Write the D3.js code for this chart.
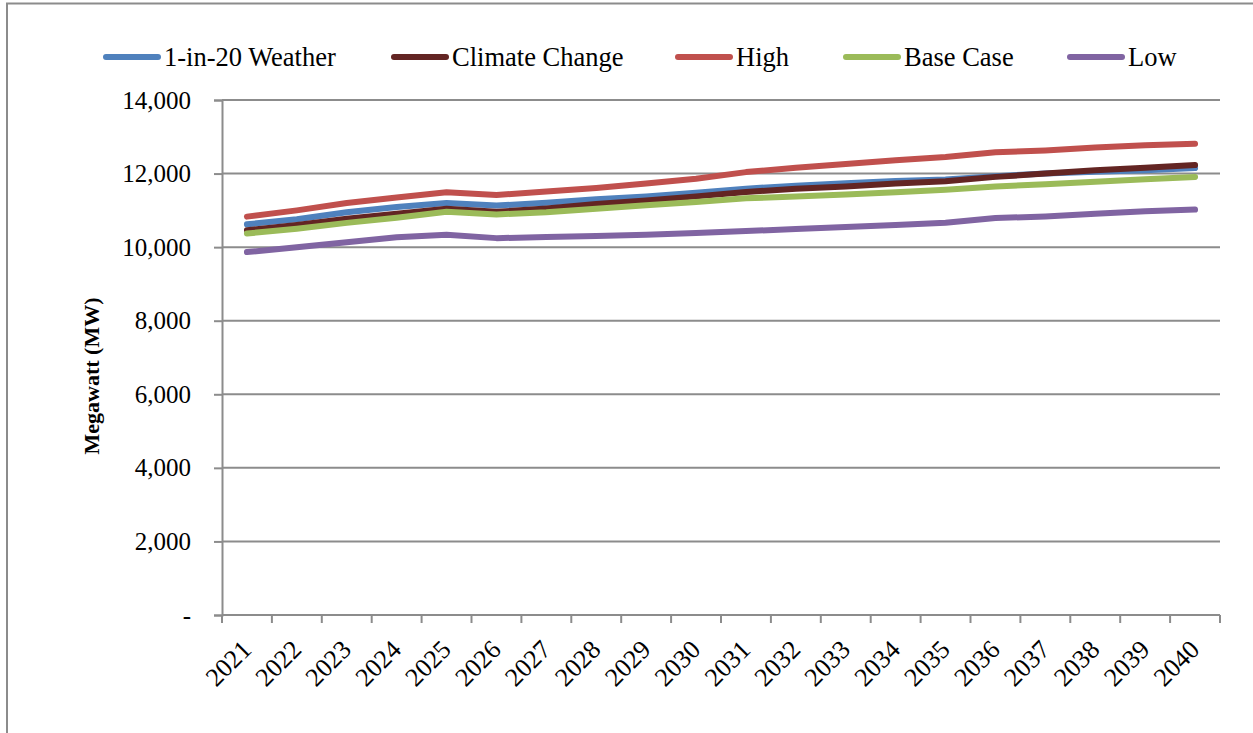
<!DOCTYPE html>
<html>
<head>
<meta charset="utf-8">
<script src="https://cdn.jsdelivr.net/npm/d3@7"></script>
<style>
  html, body { margin: 0; padding: 0; background: #fff; }
  svg { display: block; }
</style>
</head>
<body>
<svg id="chart" width="1253" height="733"></svg>
<script>
// Peak demand forecast by scenario, 2021-2040 (MW)
const years = ["2021","2022","2023","2024","2025","2026","2027","2028","2029","2030",
               "2031","2032","2033","2034","2035","2036","2037","2038","2039","2040"];

const weather1in20 = [10620,10760,10950,11090,11200,11130,11210,11300,11380,11480,
                      11590,11670,11740,11800,11840,11930,12000,12050,12090,12150];
const climateChange = [10460,10600,10770,10910,11045,10960,11050,11170,11270,11380,
                       11500,11590,11650,11730,11790,11910,12000,12090,12160,12230];
const high = [10830,11000,11200,11350,11490,11420,11510,11610,11730,11860,
              12040,12160,12260,12360,12450,12580,12630,12710,12770,12810];
const baseCase = [10370,10500,10660,10800,10960,10890,10950,11045,11136,11227,
                  11327,11380,11430,11490,11560,11650,11710,11775,11845,11910];
const low = [9865,10000,10136,10270,10340,10245,10273,10300,10336,10382,
             10436,10491,10545,10600,10663,10790,10836,10909,10973,11020];

const yTicks = [0, 2000, 4000, 6000, 8000, 10000, 12000, 14000];

const seriesNames = ["1-in-20 Weather", "Climate Change", "High", "Base Case", "Low"];
const seriesValues = [weather1in20, climateChange, high, baseCase, low];
const seriesColors = ["#4F81BD", "#632523", "#C0504D", "#9BBB59", "#8064A2"];

const FONT = "'Liberation Serif', 'Times New Roman', serif";
const GRID = "#8c8c8c";

const svg = d3.select("#chart");
const plot = { left: 222, right: 1220, top: 100, bottom: 615 };

// outer frame of the chart area
svg.append("path")
  .attr("d", "M7,733 L7,3.5 L1253,3.5")
  .attr("fill", "none").attr("stroke", GRID).attr("stroke-width", 2);

const x = d3.scaleBand().domain(years).range([plot.left, plot.right]);
const y = d3.scaleLinear().domain([0, 14000]).range([plot.bottom, plot.top]);

// horizontal gridlines
svg.append("g").selectAll("line")
  .data(yTicks.filter(d => d > 0))
  .join("line")
  .attr("x1", plot.left).attr("x2", plot.right)
  .attr("y1", d => y(d)).attr("y2", d => y(d))
  .attr("stroke", GRID).attr("stroke-width", 2);

// y axis
const yAxis = d3.axisLeft(y)
  .tickValues(yTicks)
  .tickSize(8)
  .tickPadding(23)
  .tickFormat(d => d === 0 ? "-" : d3.format(",")(d));
const gy = svg.append("g").attr("transform", `translate(${plot.left},0)`).call(yAxis);
gy.attr("font-family", null).attr("font-size", null);
gy.select(".domain").attr("stroke", GRID).attr("stroke-width", 2);
gy.selectAll(".tick line").attr("stroke", GRID).attr("stroke-width", 2);
gy.selectAll(".tick text")
  .style("font-family", FONT).style("font-size", "25px").attr("fill", "#000");

// x axis: ticks at category boundaries
const boundaries = years.map(d => x(d)).concat([plot.right]);
const gx = svg.append("g");
gx.append("line")
  .attr("x1", plot.left).attr("x2", plot.right)
  .attr("y1", plot.bottom).attr("y2", plot.bottom)
  .attr("stroke", GRID).attr("stroke-width", 2);
gx.selectAll("line.tk").data(boundaries).join("line").attr("class", "tk")
  .attr("x1", d => d).attr("x2", d => d)
  .attr("y1", plot.bottom).attr("y2", plot.bottom + 8)
  .attr("stroke", GRID).attr("stroke-width", 2);
gx.selectAll("text").data(years).join("text")
  .attr("transform", d => `translate(${x(d) + x.bandwidth() / 2 + 6},${plot.bottom + 36}) rotate(-45)`)
  .attr("text-anchor", "end")
  .style("font-family", FONT).style("font-size", "26px")
  .attr("fill", "#000")
  .text(d => d);

// y axis title
svg.append("text")
  .attr("transform", `translate(99,376) rotate(-90)`)
  .attr("text-anchor", "middle")
  .style("font-family", FONT).style("font-size", "22px").style("font-weight", "bold")
  .attr("fill", "#000")
  .text("Megawatt (MW)");

// series lines
const line = d3.line()
  .x((d, i) => x(years[i]) + x.bandwidth() / 2)
  .y(d => y(d));

svg.append("g").selectAll("path")
  .data(seriesValues.map((v, i) => ({ v, c: seriesColors[i] })))
  .join("path")
  .attr("d", d => line(d.v))
  .attr("fill", "none")
  .attr("stroke", d => d.c)
  .attr("stroke-width", 6)
  .attr("stroke-linecap", "round")
  .attr("stroke-linejoin", "round");

// legend
const legendX = [106, 394, 678, 846, 1070];
const lg = svg.append("g").selectAll("g")
  .data(seriesNames.map((n, i) => ({ n, c: seriesColors[i], x: legendX[i] })))
  .join("g")
  .attr("transform", d => `translate(${d.x},57)`);
lg.append("line")
  .attr("x1", 0).attr("x2", 52).attr("y1", 0).attr("y2", 0)
  .attr("stroke", d => d.c).attr("stroke-width", 6).attr("stroke-linecap", "round");
lg.append("text")
  .attr("x", 58).attr("y", 9)
  .style("font-family", FONT).style("font-size", "26.5px")
  .attr("fill", "#000")
  .text(d => d.n);
</script>
</body>
</html>
